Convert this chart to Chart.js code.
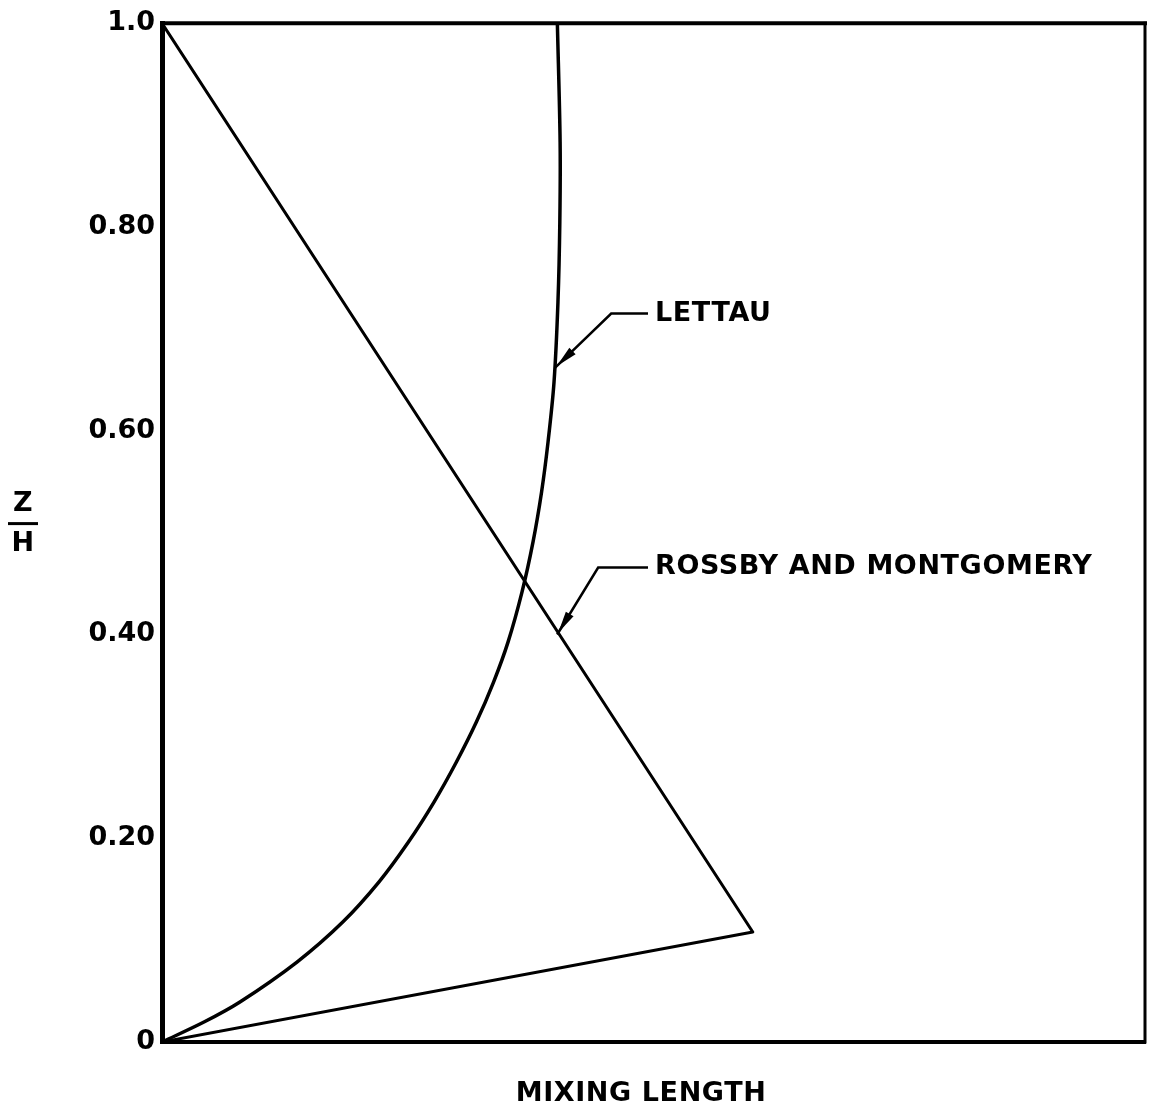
<!DOCTYPE html>
<html>
<head>
<meta charset="utf-8">
<script src="https://cdn.jsdelivr.net/npm/chart.js@4.4.1/dist/chart.umd.min.js"></script>
<style>
  body { margin: 0; background: #fff; }
  #wrap { width: 1149px; height: 1111px; }
</style>
</head>
<body>
<div id="wrap"><canvas id="myChart"></canvas></div>
<script>
// Z/H tick values and labels
var zTicks = [0, 0.2, 0.4, 0.6, 0.8, 1.0];
var zTickLabels = ['0', '0.20', '0.40', '0.60', '0.80', '1.0'];
var xTitle = 'MIXING LENGTH';

// Rossby and Montgomery profile (mixing length, z/h)
var rossbyX = [0, 0.601, 0];
var rossbyZ = [0, 0.108, 1.0];

// Lettau profile
var lettauX = [0, 0.0427, 0.0793, 0.1373, 0.1839, 0.2206, 0.2507, 0.2767, 0.2995, 0.3198, 0.3373, 0.3520, 0.3662, 0.3774, 0.3861, 0.3927, 0.3988, 0.4028, 0.4047, 0.4050, 0.4022];
var lettauZ = [0, 0.0196, 0.0393, 0.0785, 0.1178, 0.1570, 0.1963, 0.2355, 0.2748, 0.3140, 0.3533, 0.3925, 0.4416, 0.4907, 0.5397, 0.5888, 0.6477, 0.7262, 0.8047, 0.8832, 1.0];

// labels with leader lines, tip point sits on the curve
var noteText = ['LETTAU', 'ROSSBY AND MONTGOMERY'];
var noteTipX = [0.400, 0.402];
var noteTipZ = [0.662, 0.400];

function pts(xs, zs) {
    return xs.map(function(x, i){ return {x: x, y: zs[i]}; });
}

var FONT = '"DejaVu Sans", sans-serif';

var frame = {
    id: 'frame',
    afterDraw: function(chart) {
        var c = chart.ctx, a = chart.chartArea;
        var xs = chart.scales.x, ys = chart.scales.y;
        c.save();
        c.strokeStyle = '#000';
        c.lineCap = 'square';
        c.lineWidth = 4;
        c.beginPath(); c.moveTo(a.left, a.top); c.lineTo(a.right, a.top); c.stroke();
        c.lineWidth = 3;
        c.beginPath(); c.moveTo(a.right, a.top); c.lineTo(a.right, a.bottom); c.stroke();

        c.fillStyle = '#000';
        c.font = 'bold 27px ' + FONT;
        c.textAlign = 'center';
        c.textBaseline = 'middle';
        c.letterSpacing = '0.6px';

        // x title
        c.fillText(xTitle, 641, 1094);

        // Z over H
        var my = (a.top + a.bottom) / 2;
        c.fillText('Z', 23, my - 29);
        c.fillText('H', 23, my + 11);
        c.lineWidth = 3;
        c.lineCap = 'butt';
        c.beginPath(); c.moveTo(8, my - 9); c.lineTo(38, my - 9); c.stroke();

        // leader lines and labels
        var corners = [[56, -54], [41, -67]];
        c.textAlign = 'left';
        noteText.forEach(function(t, i){
            var tx = xs.getPixelForValue(noteTipX[i]);
            var ty = ys.getPixelForValue(noteTipZ[i]);
            var cx = tx + corners[i][0], cy = ty + corners[i][1];
            c.lineWidth = 2.5;
            c.beginPath();
            c.moveTo(tx, ty); c.lineTo(cx, cy); c.lineTo(648, cy);
            c.stroke();
            // arrow head
            var dx = cx - tx, dy = cy - ty, L = Math.sqrt(dx*dx + dy*dy);
            var ux = dx / L, uy = dy / L;
            var bx = tx + ux * 24, by = ty + uy * 24;
            c.beginPath();
            c.moveTo(tx + ux * 2, ty + uy * 2);
            c.lineTo(bx - uy * 4.5, by + ux * 4.5);
            c.lineTo(bx + uy * 4.5, by - ux * 4.5);
            c.closePath();
            c.fill();
            c.fillText(t, 655, cy);
        });
        c.restore();
    }
};

var ctx = document.getElementById('myChart');
var myChart = new Chart(ctx, {
    type: 'scatter',
    data: {
        datasets: [{
            label: 'Rossby and Montgomery',
            data: pts(rossbyX, rossbyZ),
            showLine: true,
            borderColor: '#000',
            borderWidth: 3,
            borderJoinStyle: 'round',
            pointRadius: 0,
            tension: 0
        }, {
            label: 'Lettau',
            data: pts(lettauX, lettauZ),
            showLine: true,
            borderColor: '#000',
            borderWidth: 3.5,
            pointRadius: 0,
            tension: 0.33
        }]
    },
    options: {
        responsive: true,
        maintainAspectRatio: false,
        animation: false,
        layout: { padding: { top: 23, right: 4, bottom: 0, left: 0 } },
        plugins: {
            legend: { display: false },
            tooltip: { enabled: false }
        },
        scales: {
            x: {
                type: 'linear',
                min: 0,
                max: 1,
                grid: { display: false, drawTicks: false },
                border: { display: true, color: '#000', width: 4 },
                ticks: { display: false },
                afterFit: function(s){ s.height = 69; }
            },
            y: {
                type: 'linear',
                min: 0,
                max: 1,
                afterBuildTicks: function(s){ s.ticks = zTicks.map(function(v){ return {value: v}; }); },
                grid: { display: false, drawTicks: false },
                border: { display: true, color: '#000', width: 5 },
                ticks: {
                    color: '#000',
                    padding: 7,
                    font: { family: FONT, size: 27, weight: 'bold' },
                    callback: function(v, i){ return zTickLabels[i]; }
                },
                afterFit: function(s){ s.width = 162; }
            }
        }
    },
    plugins: [frame]
});
</script>
</body>
</html>
